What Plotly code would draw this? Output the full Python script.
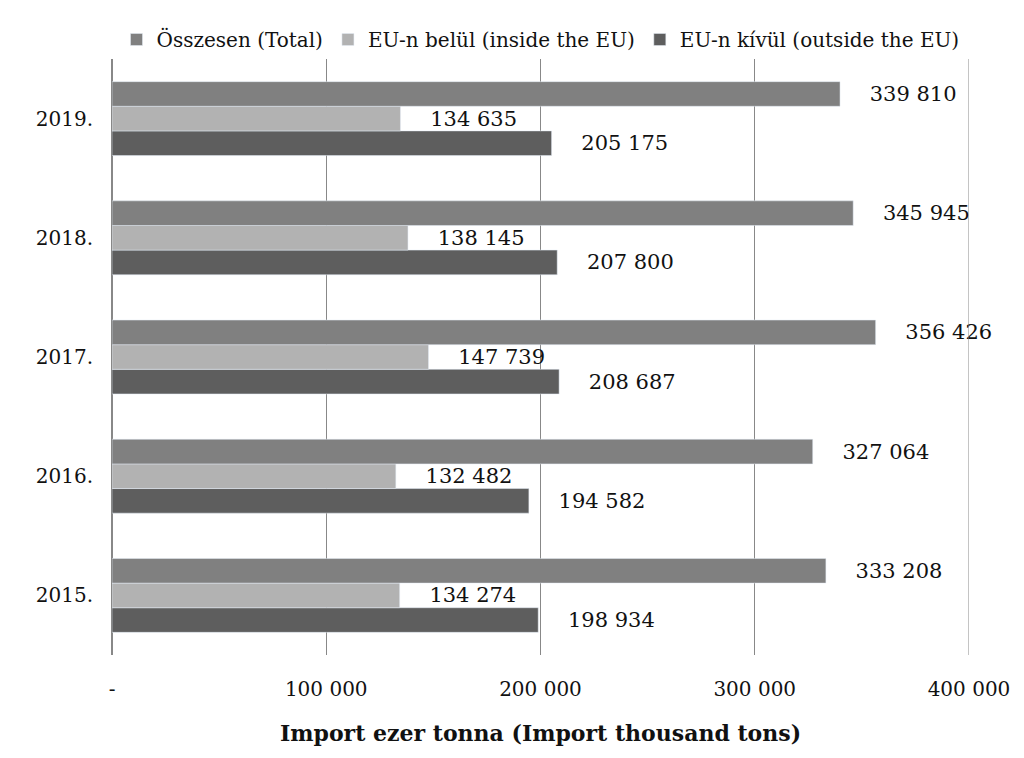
import plotly.graph_objects as go

years = ["2015.", "2016.", "2017.", "2018.", "2019."]
total = [333208, 327064, 356426, 345945, 339810]
inside = [134274, 132482, 147739, 138145, 134635]
outside = [198934, 194582, 208687, 207800, 205175]

def fmt(v):
    return "    " + f"{v:,}".replace(",", " ")

font = "DejaVu Serif"
fig = go.Figure()
for name, vals, col in [
    ("EU-n kívül (outside the EU)", outside, "#5e5e5e"),
    ("EU-n belül (inside the EU)", inside, "#b2b2b2"),
    ("Összesen (Total)", total, "#808080"),
]:
    fig.add_trace(go.Bar(
        y=years, x=vals, name=name, orientation="h", marker_color=col,
        text=[fmt(v) for v in vals], textposition="outside",
        textfont=dict(size=21, color="#111", family=font), cliponaxis=False,
    ))

fig.add_shape(type="line", xref="x", yref="paper", x0=400000, x1=400000, y0=0, y1=1,
              line=dict(color="#888", width=1))
fig.update_layout(
    width=1024, height=758, barmode="group", bargap=0.38, bargroupgap=0,
    plot_bgcolor="white", paper_bgcolor="white",
    margin=dict(l=104, r=63, t=42, b=111),
    font=dict(family=font, size=20, color="#111"),
    legend=dict(orientation="h", x=0.5, xanchor="center", y=1.0, yanchor="bottom",
                traceorder="reversed", font=dict(size=20), itemwidth=30),
    xaxis=dict(range=[0, 400000], tickvals=[0, 100000, 200000, 300000, 400000],
               ticktext=["-", "100 000", "200 000", "300 000", "400 000"],
               showgrid=True, gridcolor="#888", gridwidth=1, zeroline=True,
               zerolinecolor="#888", ticklabelstandoff=20, automargin=False,
               title=dict(text="<b>Import ezer tonna (Import thousand tons)</b>",
                          font=dict(size=22), standoff=25)),
    yaxis=dict(showgrid=False, ticklabelstandoff=18, tickfont=dict(size=20), automargin=False),
)
fig.write_html("out.html")
